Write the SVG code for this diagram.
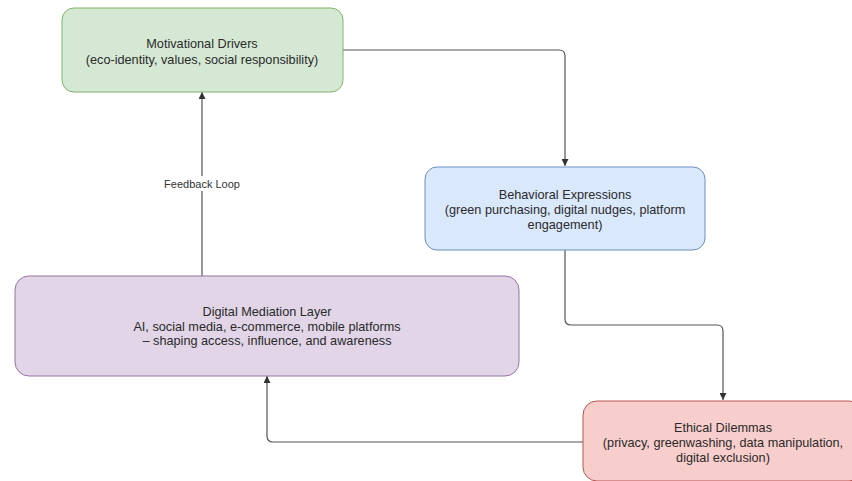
<svg xmlns="http://www.w3.org/2000/svg" width="852" height="481" viewBox="0 0 852 481">
<defs>
<marker id="arr" viewBox="0 0 10 10" refX="10" refY="5" markerWidth="7" markerHeight="7" markerUnits="userSpaceOnUse" orient="auto">
<path d="M0,0 L10,5 L0,10 Z" fill="#333"/>
</marker>
</defs>
<style>
.node text{font-family:"Liberation Sans",Arial,sans-serif;font-size:12.7px;fill:#2a2a2a;text-anchor:middle}
.edge{fill:none;stroke:#555;stroke-width:1.2}
.lbl{font-family:"Liberation Sans",Arial,sans-serif;font-size:11px;fill:#333;text-anchor:middle}
</style>
<rect width="852" height="481" fill="#fff"/>
<g id="connectors">
<path class="edge" d="M343,50 H559 Q565,50 565,56 V166" marker-end="url(#arr)"/>
<path class="edge" d="M565,250 V319 Q565,325 571,325 H717 Q723,325 723,331 V400" marker-end="url(#arr)"/>
<path class="edge" d="M583,442 H273 Q267,442 267,436 V376" marker-end="url(#arr)"/>
<path class="edge" d="M202,276 V92" marker-end="url(#arr)"/>
<rect x="160" y="176" width="84" height="15" fill="#fff"/>
<text class="lbl" x="202" y="188">Feedback Loop</text>
</g>
<g id="motivational" class="node">
<rect x="62" y="8" width="281" height="84" rx="12" fill="#d5e8d4" stroke="#82b366"/>
<text x="202" y="48">Motivational Drivers</text>
<text x="202" y="64">(eco-identity, values, social responsibility)</text>
</g>
<g id="behavioral" class="node">
<rect x="425" y="167" width="280" height="83" rx="12" fill="#dae8fc" stroke="#6c8ebf"/>
<text x="565" y="199">Behavioral Expressions</text>
<text x="565" y="214">(green purchasing, digital nudges, platform</text>
<text x="565" y="229">engagement)</text>
</g>
<g id="digital" class="node">
<rect x="15" y="276" width="504" height="100" rx="14" fill="#e1d5e7" stroke="#9673a6"/>
<text x="267" y="316">Digital Mediation Layer</text>
<text x="267" y="331">AI, social media, e-commerce, mobile platforms</text>
<text x="267" y="345">– shaping access, influence, and awareness</text>
</g>
<g id="ethical" class="node">
<rect x="583" y="401" width="280" height="80" rx="14" fill="#f8cecc" stroke="#b85450"/>
<text x="723" y="432">Ethical Dilemmas</text>
<text x="723" y="447">(privacy, greenwashing, data manipulation,</text>
<text x="723" y="462">digital exclusion)</text>
</g>
</svg>
